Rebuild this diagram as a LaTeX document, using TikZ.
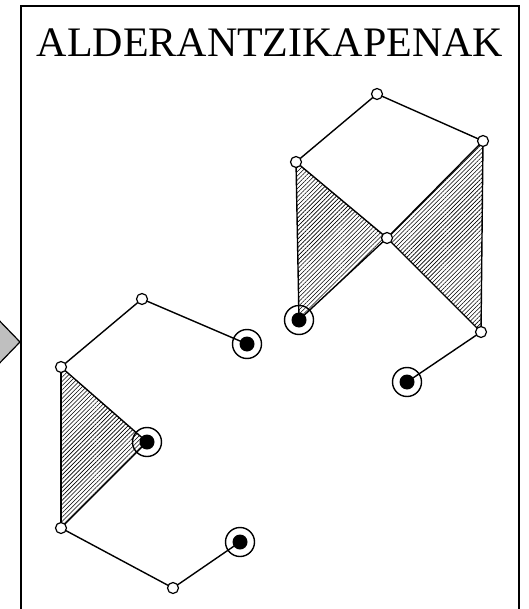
\documentclass[tikz,border=0pt]{standalone}
\usepackage{fontspec}
\setmainfont{Liberation Serif}
\usetikzlibrary{patterns.meta,backgrounds}

\begin{document}
\begin{tikzpicture}[x=1pt, y=-1pt, line width=1.4pt,
    junct/.style={circle, draw, fill=white, inner sep=0pt, minimum size=11pt, line width=1.2pt},
    target/.style={circle, draw, inner sep=0pt, minimum size=29pt, line width=1.4pt,
        path picture={\fill (path picture bounding box.center) circle (7.5pt);}},
    hatch/.style={pattern={Lines[angle=45, distance=3pt, line width=0.6pt]}},
    edge/.style={line width=1.4pt}]
    \useasboundingbox (0,0) rectangle (528,609);

    % frame, title and incoming arrow
    \filldraw[fill=black!25, line width=1.2pt] (-10,311) -- (20,342) -- (-10,373);
    \draw[line width=1.8pt] (21,640) -- (21,6) -- (519,6) -- (519,640);
    \node[anchor=base, font=\fontsize{42}{48}\selectfont] (title) at (270,57) {ALDERANTZIKAPENAK};

    % left graph
    \foreach \n/\x/\y in {a1/142/299, b1/61/367, e1/61/528, f1/173/588}
        \node[junct] (\n) at (\x,\y) {};
    \foreach \n/\x/\y in {c1/147/442, d1/247/344, g1/240/542}
        \node[target] (\n) at (\x,\y) {};

    % right graph
    \foreach \n/\x/\y in {h2/377/94, i2/483/141, j2/296/162, k2/387/238, m2/481/332}
        \node[junct] (\n) at (\x,\y) {};
    \foreach \n/\x/\y in {l2/299/320, n2/407/382}
        \node[target] (\n) at (\x,\y) {};

    \begin{scope}[on background layer]
        \fill[hatch] (b1.center) -- (c1.center) -- (e1.center) -- cycle;
        \fill[hatch] (j2.center) -- (k2.center) -- (l2.center) -- cycle;
        \fill[hatch] (i2.center) -- (k2.center) -- (m2.center) -- cycle;
        \foreach \a/\b in {d1/a1, a1/b1, b1/c1, b1/e1, c1/e1, e1/f1, f1/g1,
                           j2/h2, h2/i2, j2/k2, i2/k2, j2/l2, k2/l2, i2/m2, k2/m2, m2/n2}
            \draw[edge] (\a.center) -- (\b.center);
    \end{scope}
\end{tikzpicture}
\end{document}
